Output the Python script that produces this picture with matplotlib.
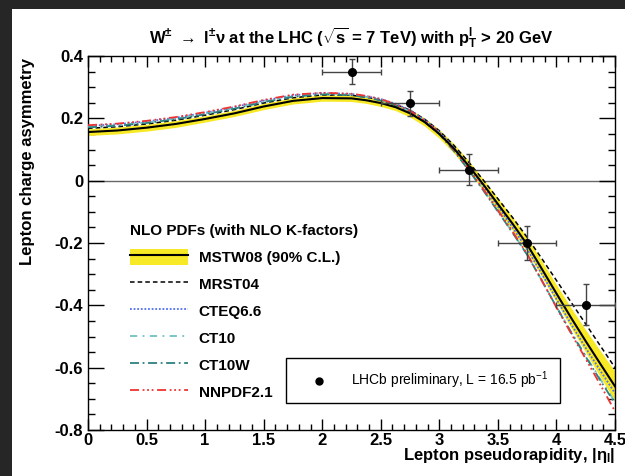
import matplotlib
matplotlib.use('Agg')
import matplotlib.pyplot as plt
from matplotlib.patches import Patch, Rectangle
from matplotlib.lines import Line2D
from matplotlib.ticker import MultipleLocator, FuncFormatter

plt.rcParams['font.family'] = ['Liberation Sans', 'DejaVu Sans']
plt.rcParams['mathtext.fontset'] = 'custom'
plt.rcParams['mathtext.rm'] = 'Liberation Sans:bold'
plt.rcParams['mathtext.it'] = 'Liberation Sans:bold'
plt.rcParams['mathtext.bf'] = 'Liberation Sans:bold'

# lepton pseudorapidity points of the predictions (finer where the curves bend)
eta = [0.0, 0.25, 0.5, 0.75, 1.0, 1.25, 1.5, 1.75, 2.0, 2.25,
       2.375, 2.5, 2.625, 2.75, 2.875, 3.0, 3.125, 3.25, 3.375, 3.5,
       3.625, 3.75, 3.875, 4.0, 4.125, 4.25, 4.375, 4.5]

mstw08 = [0.156, 0.161, 0.170, 0.182, 0.198, 0.216, 0.238, 0.256, 0.265, 0.264,
          0.258, 0.249, 0.236, 0.216, 0.188, 0.150, 0.103, 0.048, -0.012, -0.075,
          -0.138, -0.205, -0.283, -0.362, -0.440, -0.515, -0.588, -0.660]
mstw08_lo = [0.145, 0.150, 0.159, 0.171, 0.188, 0.206, 0.228, 0.246, 0.255, 0.254,
             0.248, 0.238, 0.225, 0.204, 0.175, 0.136, 0.088, 0.032, -0.029, -0.094,
             -0.159, -0.228, -0.308, -0.390, -0.472, -0.551, -0.630, -0.708]
mstw08_hi = [0.167, 0.172, 0.181, 0.193, 0.208, 0.226, 0.248, 0.266, 0.275, 0.274,
             0.268, 0.260, 0.247, 0.228, 0.201, 0.164, 0.118, 0.064, 0.005, -0.056,
             -0.117, -0.182, -0.258, -0.334, -0.408, -0.479, -0.546, -0.612]
mrst04 = [0.168, 0.173, 0.182, 0.194, 0.210, 0.228, 0.249, 0.266, 0.275, 0.274,
          0.268, 0.259, 0.245, 0.226, 0.197, 0.160, 0.113, 0.060, 0.002, -0.058,
          -0.118, -0.182, -0.250, -0.320, -0.390, -0.460, -0.530, -0.600]
cteq66 = [0.176, 0.181, 0.190, 0.202, 0.218, 0.236, 0.257, 0.274, 0.281, 0.278,
          0.271, 0.262, 0.247, 0.226, 0.196, 0.157, 0.106, 0.047, -0.017, -0.083,
          -0.150, -0.220, -0.299, -0.380, -0.460, -0.537, -0.610, -0.682]
ct10 = [0.173, 0.178, 0.187, 0.199, 0.215, 0.233, 0.254, 0.271, 0.279, 0.276,
        0.269, 0.259, 0.243, 0.222, 0.191, 0.151, 0.097, 0.036, -0.030, -0.098,
        -0.166, -0.237, -0.320, -0.404, -0.485, -0.562, -0.637, -0.710]
ct10w = [0.171, 0.176, 0.185, 0.197, 0.213, 0.231, 0.252, 0.269, 0.277, 0.274,
         0.267, 0.257, 0.241, 0.220, 0.189, 0.149, 0.095, 0.034, -0.031, -0.099,
         -0.167, -0.238, -0.321, -0.405, -0.487, -0.565, -0.641, -0.715]
nnpdf21 = [0.178, 0.183, 0.192, 0.204, 0.220, 0.238, 0.259, 0.276, 0.282, 0.279,
           0.272, 0.262, 0.245, 0.224, 0.193, 0.153, 0.099, 0.038, -0.027, -0.095,
           -0.163, -0.235, -0.320, -0.407, -0.490, -0.572, -0.655, -0.740]

# LHCb preliminary data
lhcb_eta = [2.25, 2.75, 3.25, 3.75, 4.25]
lhcb_eta_err = [0.25, 0.25, 0.25, 0.25, 0.25]
lhcb_asym = [0.350, 0.248, 0.035, -0.199, -0.398]
lhcb_asym_err = [0.040, 0.040, 0.050, 0.055, 0.066]

fig = plt.figure(figsize=(6.25, 4.76), dpi=100, facecolor='#262626')
fig.patches.append(Rectangle((12/625, 0), 613/625, 1 - 9/476, transform=fig.transFigure,
                             facecolor='white', edgecolor='none', zorder=-10))
ax = fig.add_axes([88/625, 1 - 430/476, 527/625, 374/476])

ax.axhline(0, color='#666666', lw=1, zorder=1)

yellow = '#f7e925'
styles = {
    'MRST04': dict(color='black', lw=1.1, ls=(0, (3, 2))),
    'CTEQ6.6': dict(color='#4f6ff0', lw=1.3, ls=(0, (1, 1))),
    'CT10': dict(color='#6fc0c0', lw=1.3, ls=(0, (4, 3, 1, 3))),
    'CT10W': dict(color='#2f8080', lw=1.3, ls=(0, (5, 2, 1, 2))),
    'NNPDF2.1': dict(color='#ee3333', lw=1.3, ls=(0, (5, 2, 1, 1.5, 1, 1.5, 1, 2))),
}
ax.fill_between(eta, mstw08_lo, mstw08_hi, color=yellow, lw=0, zorder=2)
for name, vals in [('MRST04', mrst04), ('CTEQ6.6', cteq66), ('CT10', ct10),
                   ('CT10W', ct10w), ('NNPDF2.1', nnpdf21)]:
    ax.plot(eta, vals, zorder=3, **styles[name])
ax.plot(eta, mstw08, color='black', lw=1.5, zorder=4)

ax.errorbar(lhcb_eta, lhcb_asym, xerr=lhcb_eta_err, yerr=lhcb_asym_err, fmt='o',
            color='black', ecolor='#444444', elinewidth=1, capsize=2, markersize=5.5, zorder=10)

ax.set_xlim(0, 4.5)
ax.set_ylim(-0.8, 0.4)
ax.xaxis.set_major_locator(MultipleLocator(0.5))
ax.xaxis.set_minor_locator(MultipleLocator(0.1))
ax.yaxis.set_major_locator(MultipleLocator(0.2))
ax.yaxis.set_minor_locator(MultipleLocator(0.05))
fmt = FuncFormatter(lambda v, p: '0' if abs(v) < 1e-9 else f'{v:g}')
ax.xaxis.set_major_formatter(fmt)
ax.yaxis.set_major_formatter(fmt)
ax.tick_params(which='both', direction='in', top=True, right=True, width=1)
ax.tick_params(axis='x', which='major', length=8, pad=2.5, labelsize=12)
ax.tick_params(axis='x', which='minor', length=4)
ax.tick_params(axis='y', which='major', length=11.5, pad=3.5, labelsize=12)
ax.tick_params(axis='y', which='minor', length=5)
for lab in ax.get_xticklabels() + ax.get_yticklabels():
    lab.set_fontweight('bold')
for s in ax.spines.values():
    s.set_linewidth(1)

ax.set_xlabel(r'Lepton pseudorapidity, |$\eta_{l}$|', fontsize=12, fontweight='bold', loc='right')
ax.xaxis.set_label_coords(1.0, -0.042)
ax.set_ylabel('Lepton charge asymmetry', fontsize=12, fontweight='bold', loc='top')
ax.yaxis.set_label_coords(-0.1, 0.995)

fig.text((88 + 615) / 2 / 625, 1 - 44/476,
         r'W$^{\pm}$ $\rightarrow$ l$^{\pm}$$\nu$ at the LHC ($\sqrt{s}$ = 7 TeV) with p$_{T}^{l}$ > 20 GeV',
         ha='center', va='baseline', fontsize=12, fontweight='bold')

handles = [(Patch(facecolor=yellow, edgecolor='none'), Line2D([], [], color='black', lw=1.5))]
handles += [Line2D([], [], **styles[n]) for n in ['MRST04', 'CTEQ6.6', 'CT10', 'CT10W', 'NNPDF2.1']]
labels = ['MSTW08 (90% C.L.)', 'MRST04', 'CTEQ6.6', 'CT10', 'CT10W', 'NNPDF2.1']
leg1 = ax.legend(handles, labels, loc='upper left', bbox_to_anchor=(130/625, 1 - 224/476),
                 bbox_transform=fig.transFigure, frameon=False, borderpad=0, borderaxespad=0,
                 title='NLO PDFs (with NLO K-factors)', alignment='left',
                 prop={'size': 11, 'weight': 'bold'}, title_fontproperties={'size': 11, 'weight': 'bold'},
                 handlelength=3.8, handleheight=1.2, handletextpad=0.7, labelspacing=0.72)
ax.add_artist(leg1)

leg2 = ax.legend([Line2D([], [], marker='o', color='black', ls='none', markersize=5)],
                 [r'LHCb preliminary, L = 16.5 pb$^{\mathregular{-1}}$'],
                 loc='upper left', bbox_to_anchor=(286/625, 1 - 358/476),
                 bbox_transform=fig.transFigure, fancybox=False, edgecolor='black',
                 framealpha=1, prop={'size': 10}, borderpad=0.85, borderaxespad=0,
                 handlelength=3.0, handletextpad=0.8)
leg2.get_frame().set_linewidth(1)

fig.savefig('out.png', dpi=100, facecolor=fig.get_facecolor())
